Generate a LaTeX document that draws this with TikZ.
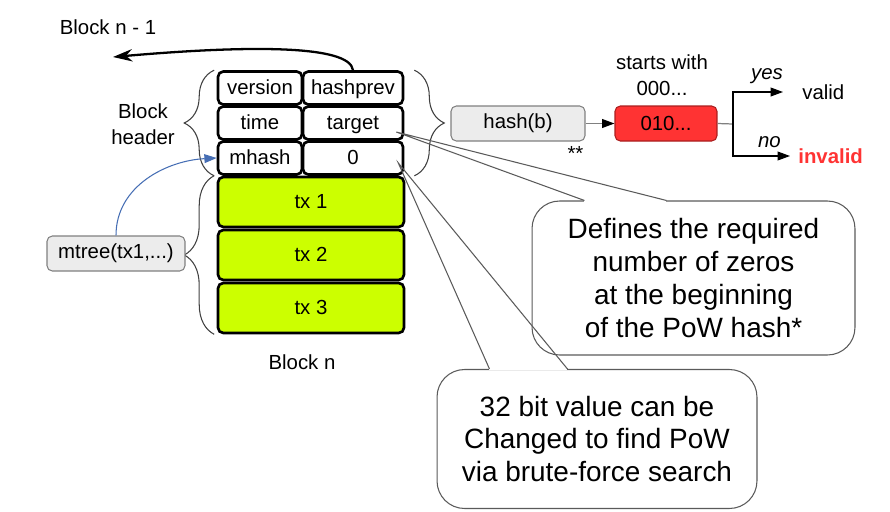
\documentclass[tikz,border=0pt]{standalone}
\usepackage{fontspec}
\setmainfont{Liberation Sans}
\usepackage{tikz}
\usetikzlibrary{arrows.meta, positioning, calc, decorations.pathreplacing}
\definecolor{txgreen}{RGB}{204,255,0}
\definecolor{boxgray}{RGB}{236,236,236}
\definecolor{boxedge}{RGB}{128,128,128}
\definecolor{hashred}{RGB}{255,51,51}
\definecolor{hashedge}{RGB}{170,30,30}
\definecolor{treeblue}{RGB}{70,110,180}
\definecolor{noteedge}{RGB}{90,90,90}
\newcommand{\cellfont}{\fontsize{11.6}{14.5}\selectfont}
\newcommand{\notefont}{\fontsize{15.9}{18.7}\selectfont}
\tikzset{
  cell/.style={rectangle, draw=black, fill=white, line width=1.5pt,
    rounded corners=3pt, minimum height=0.66cm, inner sep=0pt, font=\cellfont,
    text height=1.9ex, text depth=0.45ex},
  txcell/.style={cell, fill=txgreen, minimum width=3.72cm, minimum height=1.0cm},
  funcbox/.style={rectangle, draw=boxedge, fill=boxgray, rounded corners=3pt,
    minimum height=0.7cm, line width=0.6pt, font=\cellfont},
  redbox/.style={funcbox, draw=hashedge, fill=hashred},
  note/.style={rectangle, draw=noteedge, fill=white, rounded corners=0.55cm,
    line width=0.6pt, align=center, font=\notefont},
  txtlbl/.style={font=\cellfont, align=center},
  hdrbrace/.style={decorate, decoration={brace, amplitude=0.6cm},
    line width=0.6pt, draw=black!75},
  arrow/.style={-{Triangle[length=7pt, width=5pt, color=black]}, line width=0.7pt, draw=boxedge},
  forkarrow/.style={-{Triangle[length=7pt, width=5pt]}, line width=0.6pt, draw=black},
  prevarrow/.style={-{Stealth[length=11pt, width=7pt]}, line width=1.3pt, draw=black},
  treearrow/.style={-{Triangle[length=7pt, width=5pt]}, line width=0.6pt, draw=treeblue},
  noteline/.style={line width=0.6pt, draw=noteedge}
}

\begin{document}
\begin{tikzpicture}[x=0.02cm, y=0.02cm]
  \useasboundingbox (0,0) rectangle (890,-511);

  % Block header
  \node[cell, minimum width=1.68cm] (version) at (260,-88) {version};
  \node[cell, minimum width=2.0cm] (hashprev) at (353,-88) {hashprev};
  \node[cell, minimum width=1.68cm] (time) at (260,-123) {time};
  \node[cell, minimum width=2.0cm] (target) at (353,-123) {target};
  \node[cell, minimum width=1.68cm] (mhash) at (260,-158) {mhash};
  \node[cell, minimum width=2.0cm] (nonce) at (353,-158) {0};

  % Transactions
  \node[txcell] (tx1) at (311,-202) {tx 1};
  \node[txcell] (tx2) at (311,-255) {tx 2};
  \node[txcell] (tx3) at (311,-308) {tx 3};

  \node[txtlbl] (blockn) at (302,-362) {Block n};
  \node[txtlbl] (hdrlbl) at (143,-124) {Block\\header};
  \node[txtlbl] (prevlbl) at (108,-27) {Block n - 1};

  % Braces
  \draw[hdrbrace] ([xshift=-0.05cm]mhash.south west) -- ([xshift=-0.05cm]version.north west);
  \draw[hdrbrace] ([xshift=-0.05cm]tx3.south west) -- ([xshift=-0.05cm]tx1.north west);
  \draw[hdrbrace] ([xshift=0.2cm]hashprev.north east) -- ([xshift=0.2cm]nonce.south east);

  % Link to previous block
  \coordinate (prevblk) at (113,-57);
  \draw[prevarrow] (hashprev.north) .. controls (350,-45) and (250,-45) .. (prevblk);

  % Merkle tree root
  \node[funcbox, minimum width=2.76cm] (mtree) at (116,-253.5) {mtree(tx1,...)};
  \draw[treearrow] (mtree.north) to[out=90, in=183] (mhash.west);

  % Proof of work check
  \node[funcbox, minimum width=2.68cm] (hash) at (518,-123.5) {hash(b)};
  \node[font=\cellfont, anchor=north east, inner sep=1pt] (stars) at ([yshift=-0.05cm]hash.south east) {**};
  \node[redbox, minimum width=2.04cm] (check) at (666,-123.5) {010...};
  \node[txtlbl] (startlbl) at (662,-75) {starts with\\000...};
  \draw[arrow] (hash) -- (check);

  \node[font=\cellfont, anchor=west, inner sep=0pt] (valid) at (802,-92) {valid};
  \node[font=\cellfont\bfseries, text=hashred, anchor=west, inner sep=0pt] (invalid) at (798,-156) {invalid};
  \coordinate (fork) at (733,-124);
  \draw[line width=0.7pt, draw=boxedge] (check.east) -- (fork);
  \draw[forkarrow] (fork) |- ([xshift=-0.38cm]valid.west)
    node[pos=0.84, above, font=\cellfont\itshape, yshift=1pt] {yes};
  \draw[forkarrow] (fork) |- ([xshift=-0.16cm]invalid.west)
    node[pos=0.82, above, font=\cellfont\itshape, yshift=1pt] {no};

  % Note on target
  \node[note, minimum width=6.46cm, minimum height=3.08cm] (zeronote) at (693.5,-278)
    {Defines the required\\number of zeros\\ at the beginning\\of the PoW hash*};
  \coordinate (tgtpt) at ([xshift=-0.16cm, yshift=-0.18cm]target.east);
  \coordinate (zl) at ([xshift=1.06cm]zeronote.north west);
  \coordinate (zr) at ([xshift=2.7cm]zeronote.north west);
  \draw[white, line width=1.6pt] (zl) -- (zr);
  \draw[noteline] (zl) -- (tgtpt) -- (zr);

  % Note on nonce
  \node[note, minimum width=6.4cm, minimum height=2.78cm] (noncenote) at (597,-439)
    {32 bit value can be\\Changed to find PoW\\via brute-force search};
  \coordinate (noncept) at ([xshift=-0.12cm, yshift=-0.1cm]nonce.east);
  \coordinate (nl) at ([xshift=1.06cm]noncenote.north west);
  \coordinate (nr) at ([xshift=2.62cm]noncenote.north west);
  \draw[white, line width=1.6pt] (nl) -- (nr);
  \draw[noteline] (nl) -- (noncept) -- (nr);
\end{tikzpicture}
\end{document}
